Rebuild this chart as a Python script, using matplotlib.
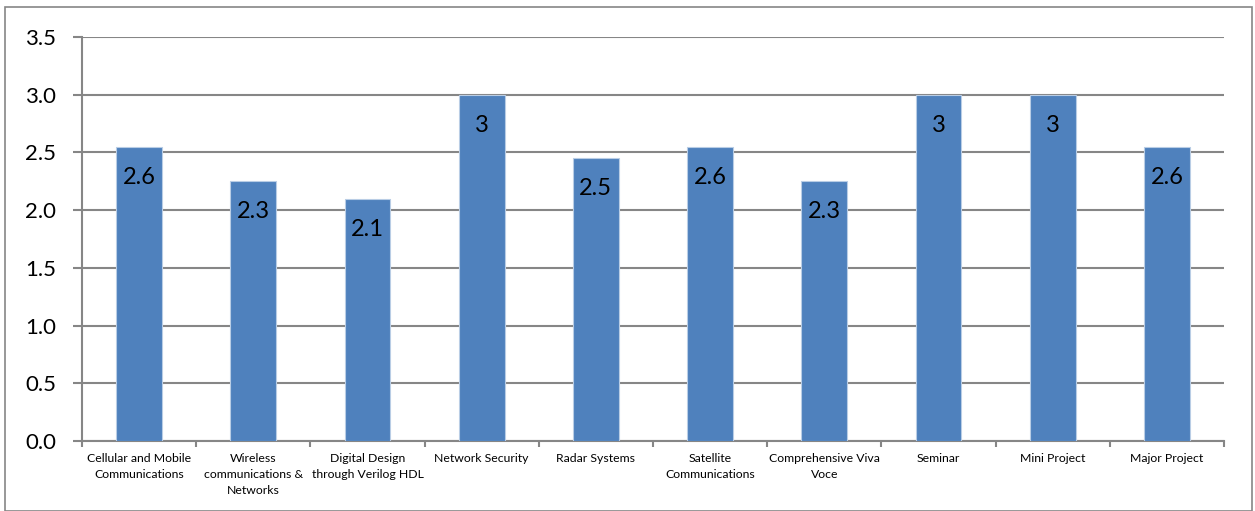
import numpy as np
import matplotlib.pyplot as plt
from matplotlib.patches import Rectangle
from decimal import Decimal, ROUND_HALF_UP

## Data
subjects = ["Cellular and Mobile\nCommunications",
            "Wireless\ncommunications &\nNetworks",
            "Digital Design\nthrough Verilog HDL",
            "Network Security",
            "Radar Systems",
            "Satellite\nCommunications",
            "Comprehensive Viva\nVoce",
            "Seminar",
            "Mini Project",
            "Major Project"]
attainment = [2.55, 2.25, 2.1, 3.0, 2.45, 2.55, 2.25, 3.0, 3.0, 2.55]
y_ticks = [0.0, 0.5, 1.0, 1.5, 2.0, 2.5, 3.0, 3.5]

plt.rcParams['font.family'] = ['Lato', 'DejaVu Sans']
grey = "#868686"


def label_text(v):
    # one decimal, rounded half up, trailing zero dropped
    r = Decimal(str(v)).quantize(Decimal("0.1"), rounding=ROUND_HALF_UP)
    return "{:g}".format(float(r))


def plot_attainment(fname="out.png"):
    fig = plt.figure(figsize=(12.55, 5.11), dpi=100)
    ax = fig.add_axes([0.0653, 0.137, 0.9100, 0.7906])

    x = np.arange(len(subjects))
    bars = ax.bar(x, attainment, width=0.40, color="#4F81BD",
                  edgecolor="#B9CDE5", linewidth=0.8, zorder=3)
    for b, v in zip(bars, attainment):
        ax.annotate(label_text(v), (b.get_x() + b.get_width() / 2, v),
                    xytext=(0, -22), textcoords="offset points",
                    ha="center", va="center", fontsize=17, color="black",
                    zorder=4)

    ax.set_xlim(-0.5, len(subjects) - 0.5)
    ax.set_ylim(0, 3.5)
    ax.set_yticks(y_ticks)
    ax.set_yticklabels(["{:.1f}".format(t) for t in y_ticks], fontsize=16)
    ax.yaxis.grid(True, color=grey, linewidth=1.5, zorder=0)
    ax.tick_params(axis="y", length=6.5, width=1.5, color=grey, pad=12)

    ax.set_xticks(x)
    ax.set_xticklabels(subjects, fontsize=8.8, linespacing=1.55, va="top")
    ax.tick_params(axis="x", which="major", length=0, pad=9)
    ax.set_xticks(np.arange(len(subjects) + 1) - 0.5, minor=True)
    ax.tick_params(axis="x", which="minor", length=4, width=1.5, color=grey)

    for side in ["top", "right"]:
        ax.spines[side].set_visible(False)
    for side in ["left", "bottom"]:
        ax.spines[side].set_color(grey)
        ax.spines[side].set_linewidth(1.5)

    # chart area border
    fig.patches.append(Rectangle((0.004, 0.0), 0.994, 0.986,
                                 transform=fig.transFigure, fill=False,
                                 edgecolor=grey, linewidth=1.2))

    fig.savefig(fname, dpi=100)


if __name__ == "__main__":
    plot_attainment()
